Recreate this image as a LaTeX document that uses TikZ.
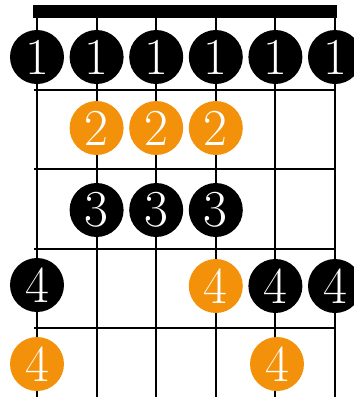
\documentclass[tikz,border=0pt]{standalone}
\definecolor{fingerorange}{RGB}{243,146,10}
\tikzset{
  fretline/.style={line width=2bp, black},
  stringline/.style={line width=2bp, black},
  dotbase/.style={circle, minimum size=54bp, inner sep=0pt, text=white,
    font=\fontsize{52}{52}\selectfont},
  blackdot/.style={dotbase, fill=black},
  orangedot/.style={dotbase, fill=fingerorange},
}
\begin{document}
\begin{tikzpicture}[x=1bp,y=-1bp]
\useasboundingbox (0,0) rectangle (354,397);
\clip (0,0) rectangle (354,397);
% strings
\foreach \i in {0,...,5}{
  \draw[stringline] (37+59.6*\i,11) -- (37+59.6*\i,397);
}
% frets
\foreach \y in {90,169.3,248.6,327.9}{
  \draw[fretline] (34,\y) -- (336,\y);
}
% nut
\fill[black] (33,5) rectangle (337,17.5);
% row 1
\foreach \i in {0,...,5}{
  \node[blackdot] (r1s\i) at (37+59.6*\i,57) {1};
}
% row 2
\foreach \i in {1,2,3}{
  \node[orangedot] (r2s\i) at (37+59.6*\i,128) {2};
}
% row 3
\foreach \i in {1,2,3}{
  \node[blackdot] (r3s\i) at (37+59.6*\i,210) {3};
}
% row 4
\node[blackdot] (r4s0) at (37,285) {4};
\node[orangedot] (r4s3) at (215.8,286) {4};
\node[blackdot] (r4s4) at (275.4,286) {4};
\node[blackdot] (r4s5) at (335,286) {4};
% row 5
\node[orangedot] (r5s0) at (37,364) {4};
\node[orangedot] (r5s4) at (277,364) {4};
\end{tikzpicture}
\end{document}
